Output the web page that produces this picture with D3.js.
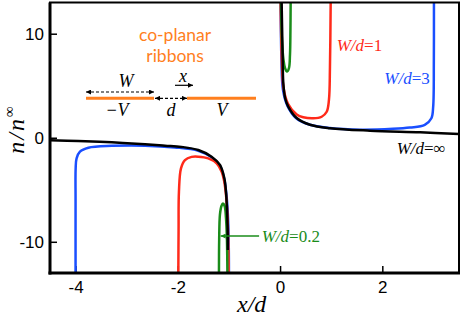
<!DOCTYPE html>
<html>
<head>
<meta charset="utf-8">
<script src="https://cdn.jsdelivr.net/npm/d3@7"></script>
<style>
  body { margin: 0; background: #fff; }
</style>
</head>
<body>
<script>
const width = 463;
const height = 321;

// axis ranges and tick values
const xDomain = [-4.5, 3.5];
const yDomain = [-13, 13];
const xMajorTicks = [-4, -2, 0, 2];
const xMinorTicks = [-3.5, -3, -2.5, -1.5, -1, -0.5, 0.5, 1, 1.5, 2.5, 3];
const yMajorTicks = [-10, 0, 10];
const yMinorTicks = [-12, -8, -6, -4, -2, 2, 4, 6, 8, 12];

// curves, [x/d, n/n_inf], right ribbon branch and left ribbon branch
// W/d = infinity
const infRight = [[0.031, 13], [0.04, 10.5], [0.05, 8], [0.063, 5.3], [0.1, 3.8], [0.16, 3.0], [0.325, 1.9],
  [0.585, 1.25], [0.976, 0.92], [1.76, 0.68], [2.74, 0.52], [3.5, 0.36]];
const infLeft = [[-4.5, -0.25], [-3.95, -0.31], [-3.29, -0.44], [-2.64, -0.62], [-2.25, -0.76], [-1.93, -0.88],
  [-1.6, -1.18], [-1.34, -1.82], [-1.175, -2.62], [-1.09, -3.9], [-1.058, -5.2], [-1.039, -6.8],
  [-1.027, -8.4], [-1.022, -10.8]];
// W/d = 3
const w3Right = [[0.012, 13], [0.027, 7.5], [0.057, 4.6], [0.145, 3.05], [0.31, 1.9], [0.585, 1.25], [0.976, 0.94],
  [1.56, 0.78], [2.21, 0.86], [2.54, 0.98], [2.83, 1.23], [2.96, 1.87], [2.995, 3.0], [3.008, 7.5], [3.01, 13]];
const w3Left = [[-4.0, -13], [-4.0, -6], [-3.998, -2.94], [-3.98, -1.98], [-3.914, -1.34], [-3.75, -0.96],
  [-3.29, -0.78], [-2.64, -0.76], [-2.06, -0.93], [-1.6, -1.25], [-1.34, -1.88], [-1.175, -2.7],
  [-1.088, -4.06], [-1.039, -6.0], [-1.009, -8.9], [-1.0, -13]];
// W/d = 1
const w1Right = [[0.01, 13], [0.035, 7.5], [0.067, 4.8], [0.155, 3.25], [0.325, 2.24], [0.454, 1.97], [0.65, 1.87],
  [0.814, 2.02], [0.912, 2.5], [0.956, 3.63], [0.976, 6.8], [0.99, 13]];
const w1Left = [[-1.99, -13], [-1.985, -8.9], [-1.978, -5.2], [-1.938, -2.94], [-1.86, -2.14], [-1.73, -1.84],
  [-1.6, -1.82], [-1.404, -1.98], [-1.24, -2.46], [-1.142, -3.26], [-1.091, -4.23], [-1.048, -6.0],
  [-1.018, -8.9], [-1.005, -13]];
// W/d = 0.2
const w02Right = [[0.018, 13], [0.037, 9.4], [0.067, 7.5], [0.096, 6.7], [0.135, 6.37], [0.174, 6.7],
  [0.194, 7.96], [0.203, 10.4], [0.207, 13]];
const w02Left = [[-1.195, -13], [-1.191, -9.8], [-1.176, -7.4], [-1.146, -6.56], [-1.117, -6.32], [-1.084, -6.56],
  [-1.058, -7.7], [-1.039, -9.8], [-1.03, -13]];

const seriesNames = ["W/d=3", "W/d=1", "W/d=0.2", "W/d=inf"];
const seriesColors = ["#1a4fff", "#ff2a1a", "#1a8c1a", "#000000"];
const seriesData = [[w3Right, w3Left], [w1Right, w1Left], [w02Right, w02Left], [infRight, infLeft]];

//Plot area
const plot = {left: 50, right: 459, top: 2.5, bottom: 273};

const svg = d3.select("body").append("svg")
    .attr("width", width)
    .attr("height", height)
    .style("font-family", "'Liberation Sans', Arial, sans-serif");

const defs = svg.append("defs");
defs.append("clipPath").attr("id", "clip")
  .append("rect")
    .attr("x", plot.left).attr("y", plot.top)
    .attr("width", plot.right - plot.left).attr("height", plot.bottom - plot.top);

function addArrowMarker(id, color) {
  defs.append("marker")
      .attr("id", id)
      .attr("viewBox", "0 0 10 10")
      .attr("refX", 10).attr("refY", 5)
      .attr("markerUnits", "userSpaceOnUse")
      .attr("markerWidth", 6).attr("markerHeight", 5)
      .attr("orient", "auto-start-reverse")
    .append("path")
      .attr("d", "M0,0 L10,5 L0,10 z")
      .attr("fill", color);
}
addArrowMarker("arrowBlack", "#000");
addArrowMarker("arrowGreen", "#1a8c1a");

const x = d3.scaleLinear().domain(xDomain).range([plot.left, plot.right]);
const y = d3.scaleLinear().domain(yDomain).range([plot.bottom, plot.top]);

//Axes with inward ticks
const xAxis = svg.append("g").attr("transform", `translate(0,${plot.bottom})`);
xAxis.call(d3.axisBottom(x).tickValues(xMinorTicks).tickSizeInner(-4).tickSizeOuter(0).tickFormat(""));
xAxis.call(d3.axisBottom(x).tickValues(xMajorTicks).tickSizeInner(-7).tickSizeOuter(0).tickPadding(8)
  .tickFormat(d => String(d)));

const yAxis = svg.append("g").attr("transform", `translate(${plot.left},0)`);
yAxis.call(d3.axisLeft(y).tickValues(yMinorTicks).tickSizeInner(-4).tickSizeOuter(0).tickFormat(""));
yAxis.call(d3.axisLeft(y).tickValues(yMajorTicks).tickSizeInner(-7).tickSizeOuter(0).tickPadding(6)
  .tickFormat(d => String(d)));

svg.selectAll(".tick line").attr("stroke", "#000").attr("stroke-width", 1.5);
svg.selectAll(".domain").remove();
svg.selectAll(".tick text")
    .style("font-family", "'Liberation Sans', Arial, sans-serif")
    .style("font-size", "17px")
    .attr("fill", "#000");

//Curves
const line = d3.line()
    .x(d => x(d[0]))
    .y(d => y(d[1]))
    .curve(d3.curveCatmullRom.alpha(0.5));

const curves = svg.append("g").attr("clip-path", "url(#clip)");
seriesData.forEach((branches, i) => {
  branches.forEach(b => {
    curves.append("path")
        .datum(b)
        .attr("d", line)
        .attr("fill", "none")
        .attr("stroke", seriesColors[i])
        .attr("stroke-width", 2.5)
        .attr("stroke-linejoin", "round");
  });
});

//Frame
svg.append("rect")
    .attr("x", plot.left).attr("y", plot.top)
    .attr("width", plot.right - plot.left).attr("height", plot.bottom - plot.top)
    .attr("fill", "none").attr("stroke", "#000").attr("stroke-width", 2);
svg.append("line")
    .attr("x1", plot.left).attr("x2", plot.left).attr("y1", plot.top).attr("y2", plot.bottom + 1.5)
    .attr("stroke", "#000").attr("stroke-width", 3);
svg.append("line")
    .attr("x1", plot.left - 1.5).attr("x2", plot.right + 1).attr("y1", plot.bottom).attr("y2", plot.bottom)
    .attr("stroke", "#000").attr("stroke-width", 3);

//Axis labels
svg.append("text")
    .attr("x", 251.7).attr("y", 312)
    .attr("text-anchor", "middle")
    .style("font-family", "'Liberation Serif', 'Times New Roman', serif")
    .style("font-style", "italic")
    .style("font-size", "24px")
    .text("x/d");

const yLabel = svg.append("text")
    .attr("transform", "translate(24,129) rotate(-90)")
    .attr("text-anchor", "middle")
    .style("font-family", "'Liberation Serif', 'Times New Roman', serif")
    .style("font-style", "italic")
    .style("font-size", "24px")
    .style("letter-spacing", "2px");
yLabel.append("tspan").text("n/n");
yLabel.append("tspan").attr("dy", -10).style("font-size", "15px").style("font-style", "normal").text("∞");

//Curve labels
function wdLabel(lx, ly, value, color) {
  const t = svg.append("text")
      .attr("x", x(lx)).attr("y", y(ly))
      .attr("fill", color)
      .style("font-family", "'Liberation Serif', 'Times New Roman', serif")
      .style("font-size", "17px");
  t.append("tspan").style("font-style", "italic").text("W/d");
  t.append("tspan").text("=" + value);
  return t;
}
wdLabel(1.107, 8.34, "1", seriesColors[1]);
wdLabel(2.04, 5.12, "3", seriesColors[0]);
wdLabel(2.28, -1.56, "∞", seriesColors[3]);
wdLabel(-0.36, -10.03, "0.2", seriesColors[2]);

svg.append("line")
    .attr("x1", x(-0.41)).attr("y1", y(-9.45))
    .attr("x2", x(-1.162)).attr("y2", y(-9.45))
    .attr("stroke", seriesColors[2]).attr("stroke-width", 1.5)
    .attr("marker-end", "url(#arrowGreen)");

//Inset sketch of the ribbons
const orange = "#ff7f1e";
const inset = svg.append("g").attr("transform", "translate(86,98.3)");
const serif = "'Liberation Serif', 'Times New Roman', serif";

inset.selectAll("text.title")
  .data(["co-planar", "ribbons"])
  .join("text")
    .attr("class", "title")
    .attr("x", 89).attr("y", (d, i) => -57 + i * 20.5)
    .attr("text-anchor", "middle")
    .attr("fill", orange)
    .style("font-family", "Lato, sans-serif")
    .style("font-size", "17.5px")
    .text(d => d);

inset.append("line")
    .attr("x1", 0).attr("x2", 68).attr("y1", 0).attr("y2", 0)
    .attr("stroke", orange).attr("stroke-width", 3);
inset.append("line")
    .attr("x1", 101).attr("x2", 170).attr("y1", 0).attr("y2", 0)
    .attr("stroke", orange).attr("stroke-width", 3);

inset.append("line")
    .attr("x1", 0).attr("x2", 68).attr("y1", -6.3).attr("y2", -6.3)
    .attr("stroke", "#000").attr("stroke-width", 1.2)
    .attr("stroke-dasharray", "3,2")
    .attr("marker-start", "url(#arrowBlack)")
    .attr("marker-end", "url(#arrowBlack)");
inset.append("line")
    .attr("x1", 69).attr("x2", 101).attr("y1", 0).attr("y2", 0)
    .attr("stroke", "#000").attr("stroke-width", 1.2)
    .attr("stroke-dasharray", "3,2")
    .attr("marker-start", "url(#arrowBlack)")
    .attr("marker-end", "url(#arrowBlack)");
inset.append("line")
    .attr("x1", 89).attr("x2", 107).attr("y1", -13).attr("y2", -13)
    .attr("stroke", "#000").attr("stroke-width", 1.2)
    .attr("marker-end", "url(#arrowBlack)");

const insetTexts = [
  {t: "W", x: 40, y: -11},
  {t: "x", x: 97, y: -16},
  {t: "\u2212V", x: 31, y: 18},
  {t: "d", x: 85, y: 18},
  {t: "V", x: 136, y: 18}
];
inset.selectAll("text.sym")
  .data(insetTexts)
  .join("text")
    .attr("class", "sym")
    .attr("x", d => d.x).attr("y", d => d.y)
    .attr("text-anchor", "middle")
    .style("font-family", serif)
    .style("font-style", "italic")
    .style("font-size", "18px")
    .text(d => d.t);
</script>
</body>
</html>
